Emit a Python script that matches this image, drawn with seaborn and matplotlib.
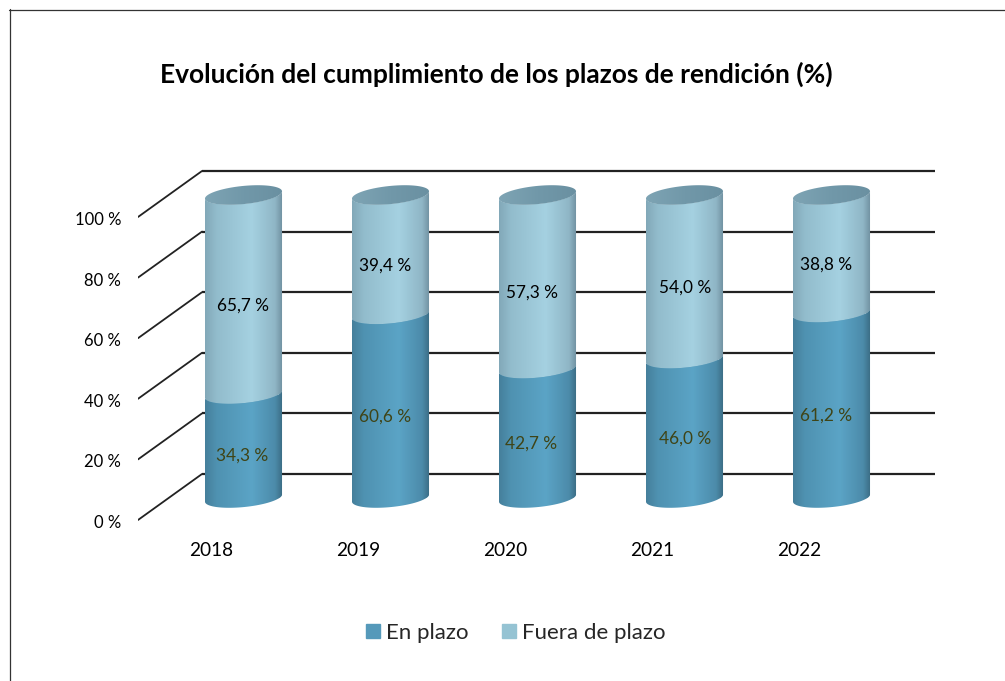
import numpy as np
import pandas as pd
import matplotlib
matplotlib.use('Agg')
import matplotlib.pyplot as plt
from matplotlib.colors import LinearSegmentedColormap
from matplotlib.lines import Line2D
from matplotlib.patches import Patch, Polygon
from matplotlib.transforms import ScaledTranslation
import seaborn as sns

# data
years = ['2018', '2019', '2020', '2021', '2022']
en_plazo = [34.3, 60.6, 42.7, 46.0, 61.2]
fuera_plazo = [65.7, 39.4, 57.3, 54.0, 38.8]
y_ticks = [0, 20, 40, 60, 80, 100]
title = 'Evolución del cumplimiento de los plazos de rendición (%)'
series_names = ['En plazo', 'Fuera de plazo']

sns.set_theme(style='white')
plt.rcParams['font.family'] = ['Lato', 'DejaVu Sans']

W, H = 1005, 681
DPI = 100
fig = plt.figure(figsize=(W / DPI, H / DPI), dpi=DPI)

# axes box in pixels, bars sit on the middle plane of the fake 3D box
left, right, top, bottom = 138, 935, 150, 530
ax = fig.add_axes([left / W, 1 - bottom / H, (right - left) / W, (bottom - top) / H])
px_per_unit = 3.03
px_per_cat = 147
zero_px = 498
first_px = 243.5
xlim = ((left - first_px) / px_per_cat, (right - first_px) / px_per_cat)
ylim = ((zero_px - bottom) / px_per_unit, (zero_px - top) / px_per_unit)

df = pd.DataFrame({'year': years, 'en': en_plazo, 'fuera': fuera_plazo})
df['total'] = df['en'] + df['fuera']

# fake 3D walls
back_up = 24 / px_per_unit
front_down = 22 / px_per_unit
wall_x = (202 - first_px) / px_per_cat
for v in y_ticks:
    ax.plot([wall_x, xlim[1]], [v + back_up] * 2, color='#222222', lw=1.6, zorder=1,
            solid_capstyle='butt')
    ax.plot([xlim[0], wall_x], [v - front_down, v + back_up], color='#222222', lw=1.3, zorder=1)

sns.barplot(data=df, x='year', y='total', color='#95c3d3', width=0.524, saturation=1, ax=ax, zorder=2)
n_light = len(ax.patches)
sns.barplot(data=df, x='year', y='en', color='#5599ba', width=0.524, saturation=1, ax=ax, zorder=3)
light_bars = ax.patches[:n_light]
dark_bars = ax.patches[n_light:]

stops = [0, 0.15, 0.6, 0.9, 1]
cmap_light = LinearSegmentedColormap.from_list(
    'light', list(zip(stops, ['#82a8b8', '#92bccc', '#a5d1e1', '#8fb6c6', '#6f8f9f'])))
cmap_dark = LinearSegmentedColormap.from_list(
    'dark', list(zip(stops, ['#457f9b', '#4f92b1', '#5ba4c6', '#4c8baa', '#3a6b82'])))
cmap_cap = LinearSegmentedColormap.from_list('cap', ['#7ea4b4', '#7198a9', '#6a90a1'])
ramp = np.linspace(0, 1, 256).reshape(1, -1)

ry = 3.0
skew = 1.2


def arc(cx, half_w, v, t):
    return np.column_stack([cx + half_w * np.cos(t), v + ry * np.sin(t) + skew * np.cos(t)])


def paint(poly_xy, x0, x1, lo, hi, cmap, zorder):
    clip = Polygon(poly_xy, closed=True, transform=ax.transData)
    im = ax.imshow(ramp, extent=(x0, x1, lo, hi), aspect='auto', cmap=cmap, zorder=zorder)
    im.set_clip_path(clip)
    return clip


front = np.linspace(np.pi, 2 * np.pi, 60)
full = np.linspace(0, 2 * np.pi, 120)
for bar_l, bar_d, en, total in zip(light_bars, dark_bars, df['en'], df['total']):
    x0 = bar_l.get_x()
    w = bar_l.get_width()
    cx = x0 + w / 2
    seg_l = np.vstack([arc(cx, w / 2, total, front), arc(cx, w / 2, en, front[::-1])])
    seg_d = np.vstack([arc(cx, w / 2, en, front), arc(cx, w / 2, 0, front[::-1])])
    bar_l.set_clip_path(paint(seg_l, x0, x0 + w, en - 6, total + 6, cmap_light, 2.5))
    bar_d.set_clip_path(paint(seg_d, x0, x0 + w, -6, en + 6, cmap_dark, 3.5))
    paint(arc(cx, w / 2, total, full), x0, x0 + w, total - 6, total + 6, cmap_cap, 4)

ax.set_xlim(*xlim)
ax.set_ylim(*ylim)

# value labels, sitting a little under the middle of each segment
nudge = [-1, -5, -6, 1, -5]
for i, (en, fu, dx) in enumerate(zip(en_plazo, fuera_plazo, nudge)):
    ax.annotate(f'{en:.1f} %'.replace('.', ','), (i, en / 2), xytext=(dx * 0.72, -10 * 0.72),
                textcoords='offset points', ha='center', va='center', fontsize=12.4,
                color='#3f4416', zorder=6)
    ax.annotate(f'{fu:.1f} %'.replace('.', ','), (i, en + fu / 2), xytext=(dx * 0.72, -11 * 0.72),
                textcoords='offset points', ha='center', va='center', fontsize=12.4,
                color='black', zorder=6)

ax.set_xlabel('')
ax.set_ylabel('')
ax.set_yticks(y_ticks)
ax.set_yticklabels([f'{v} %' for v in y_ticks])
ax.tick_params(axis='both', length=0, labelcolor='black')
ax.tick_params(axis='x', pad=9, labelsize=13.7)
ax.tick_params(axis='y', pad=12, labelsize=12)
down = ScaledTranslation(0, -23.5 / DPI, fig.dpi_scale_trans)
shift = ScaledTranslation(-32 / DPI, 0, fig.dpi_scale_trans)
for lab in ax.get_yticklabels():
    lab.set_transform(lab.get_transform() + down)
for lab in ax.get_xticklabels():
    lab.set_transform(lab.get_transform() + shift)
sns.despine(ax=ax, left=True, bottom=True)

fig.text(496.5 / W, 1 - 74 / H, title, ha='center', va='center', fontsize=19, fontweight='bold',
         color='black')

handles = [Patch(color='#5599ba'), Patch(color='#95c3d3')]
fig.legend(handles, series_names, loc='center', bbox_to_anchor=(516 / W, 1 - 633 / H), ncol=2,
           frameon=False, fontsize=16, handlelength=0.63, handleheight=0.63, handletextpad=0.27,
           columnspacing=1.5)

# chart frame, only top and left fall inside the picture
fig.add_artist(Line2D([9 / W, 1], [1 - 9.5 / H] * 2, color='#333333', lw=0.9))
fig.add_artist(Line2D([9.5 / W] * 2, [0, 1 - 9 / H], color='#333333', lw=0.9))

fig.savefig('out.png', dpi=DPI)
